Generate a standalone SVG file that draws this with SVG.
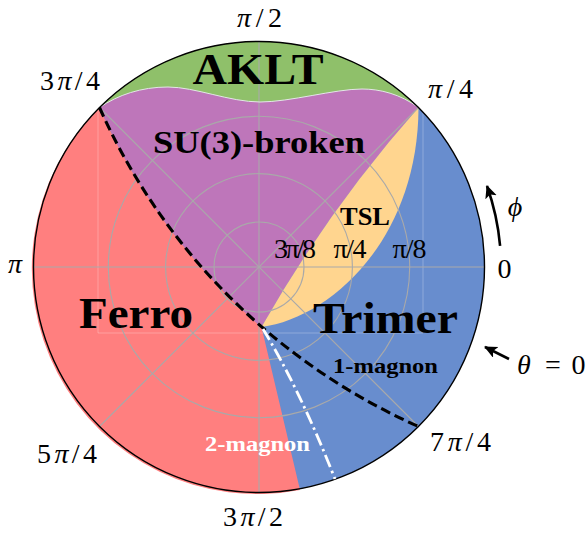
<svg xmlns="http://www.w3.org/2000/svg" width="586" height="533" viewBox="0 0 586 533">
<style>
.math{font-family:"Liberation Serif","DejaVu Serif",serif;font-size:28px;fill:#000}
.it{font-style:italic}
.bold{font-family:"Liberation Serif","DejaVu Serif",serif;font-weight:bold;fill:#000}
.grid{fill:none;stroke:#a9a9a9;stroke-width:1.1}
.faint{fill:none;stroke:#ffffff;stroke-opacity:0.25;stroke-width:1}
</style>
<defs>
<marker id="ah" markerWidth="16" markerHeight="14" refX="12" refY="6" orient="auto" markerUnits="userSpaceOnUse">
<path d="M0,0 L13,6 L0,12 L3,6 Z" fill="#000"/>
</marker>
</defs>
<rect width="586" height="533" fill="#ffffff"/>

<g id="regions">
<circle id="trimer-bg" cx="259" cy="267" r="225.5" fill="#688dce"/>
<path id="ferro-region" d="M99.5,107.5 A627.5,627.5 0 0 0 261.5,327 L300,490 A225.5,225.5 0 0 1 99.5,107.5 Z" fill="#ff7f7f"/>
<path id="su3-region" d="M99.5,107.5 C118,95 141,87 168,87 C195,87 230,102 260,102 C290,102 335,89 362,89 C380,89 400,94 418.5,107.5 Q328.6,208.9 261.5,327 A627.5,627.5 0 0 1 99.5,107.5 Z" fill="#be76ba"/>
<path id="tsl-region" d="M418.5,107.5 C418,240 330,318 261.5,327 Q328.6,208.9 418.5,107.5 Z" fill="#ffd58f"/>
<path id="aklt-region" d="M99.5,107.5 A225.5,225.5 0 0 1 418.5,107.5 C400,94 380,89 362,89 C335,89 290,102 260,102 C230,102 195,87 168,87 C141,87 118,95 99.5,107.5 Z" fill="#8fc06a"/>
</g>

<g id="grid">
<line class="faint" x1="98" y1="40" x2="98" y2="333"/>
<line class="faint" x1="423" y1="40" x2="423" y2="333"/>
<line class="faint" x1="98" y1="333" x2="423" y2="333"/>
<circle class="grid" cx="259" cy="267" r="45"/>
<circle class="grid" cx="259" cy="267" r="93.4"/>
<circle class="grid" cx="259" cy="267" r="150.7"/>
<line class="grid" x1="33.5" y1="267" x2="484.5" y2="267"/>
<line class="grid" x1="259" y1="41.5" x2="259" y2="492.5"/>
<line class="grid" x1="99.5" y1="107.5" x2="418.5" y2="426.5"/>
<line class="grid" x1="418.5" y1="107.5" x2="99.5" y2="426.5"/>
</g>

<g id="connectors">
<path d="M99.5,107.5 C118,95 141,87 168,87 C195,87 230,102 260,102 C290,102 335,89 362,89 C380,89 400,94 418.5,107.5" fill="none" stroke="#e6e6e6" stroke-width="1"/>
<circle cx="259" cy="267" r="225.5" fill="none" stroke="#000" stroke-width="1.4"/>
<path id="one-magnon-line" d="M99.5,107.5 A627.5,627.5 0 0 0 418.5,426.5" fill="none" stroke="#000" stroke-width="3.1" stroke-dasharray="10 5"/>
<path id="two-magnon-line" d="M263,329 Q300,390 335,479" fill="none" stroke="#fff" stroke-width="2.8" stroke-dasharray="13 4 2.5 4"/>
<path id="phi-arrow" d="M500.1,245.9 A242,242 0 0 0 487,186" fill="none" stroke="#000" stroke-width="2.6" marker-end="url(#ah)"/>
<line id="theta-arrow" x1="509" y1="359" x2="485" y2="347" stroke="#000" stroke-width="2.6" marker-end="url(#ah)"/>
</g>

<g id="angle-labels">
<text class="math" x="259.5" y="27" text-anchor="middle" textLength="45"><tspan class="it">π</tspan>/2</text>
<text class="math" x="70" y="90" text-anchor="middle" textLength="60">3<tspan class="it">π</tspan>/4</text>
<text class="math" x="450.5" y="98" text-anchor="middle" textLength="45"><tspan class="it">π</tspan>/4</text>
<text class="math" x="15" y="273" text-anchor="middle"><tspan class="it">π</tspan></text>
<text class="math" x="504.5" y="278" text-anchor="middle">0</text>
<text class="math" x="67" y="463" text-anchor="middle" textLength="60">5<tspan class="it">π</tspan>/4</text>
<text class="math" x="253" y="526" text-anchor="middle" textLength="60">3<tspan class="it">π</tspan>/2</text>
<text class="math" x="460.5" y="450.5" text-anchor="middle" textLength="61">7<tspan class="it">π</tspan>/4</text>
<text class="math it" x="515" y="216" text-anchor="middle">ϕ</text>
<text class="math" y="374" text-anchor="middle"><tspan class="it" x="524">θ</tspan><tspan x="553">=</tspan><tspan x="578.5">0</tspan></text>
</g>

<g id="radius-labels">
<text class="math" x="295" y="257.5" text-anchor="middle" font-size="20" textLength="42">3π/8</text>
<text class="math" x="350" y="257.5" text-anchor="middle" font-size="20" textLength="33">π/4</text>
<text class="math" x="409.5" y="257.5" text-anchor="middle" font-size="20" textLength="34">π/8</text>
</g>

<g id="node-aklt"><text class="bold" x="258" y="84" text-anchor="middle" font-size="44" textLength="131" lengthAdjust="spacingAndGlyphs">AKLT</text></g>
<g id="node-su3"><text class="bold" x="259" y="153" text-anchor="middle" font-size="32" textLength="212" lengthAdjust="spacingAndGlyphs">SU(3)-broken</text></g>
<g id="node-tsl"><text class="bold" x="365" y="225" text-anchor="middle" font-size="25" textLength="50" lengthAdjust="spacingAndGlyphs">TSL</text></g>
<g id="node-ferro"><text class="bold" x="136" y="328" text-anchor="middle" font-size="45" textLength="114" lengthAdjust="spacingAndGlyphs">Ferro</text></g>
<g id="node-trimer"><text class="bold" x="385.5" y="333" text-anchor="middle" font-size="45" textLength="145" lengthAdjust="spacingAndGlyphs">Trimer</text></g>
<g id="node-1magnon"><text class="bold" x="385.5" y="373" text-anchor="middle" font-size="22" textLength="105" lengthAdjust="spacingAndGlyphs">1-magnon</text></g>
<g id="node-2magnon"><text class="bold" x="257.5" y="450.5" text-anchor="middle" font-size="22" style="fill:#fff" textLength="105" lengthAdjust="spacingAndGlyphs">2-magnon</text></g>
</svg>
